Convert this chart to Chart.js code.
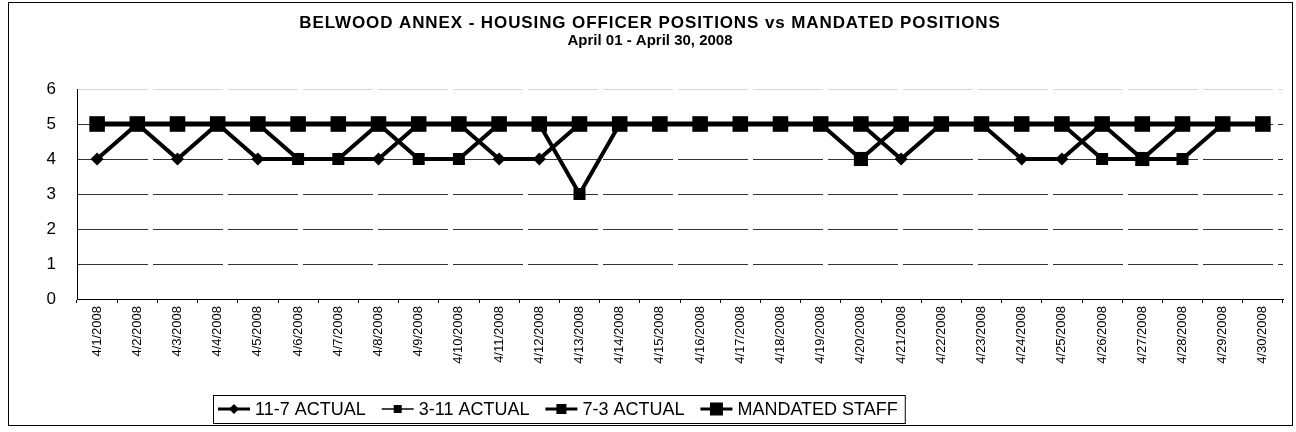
<!DOCTYPE html>
<html><head><meta charset="utf-8">
<script src="https://cdn.jsdelivr.net/npm/chart.js@4/dist/chart.umd.min.js"></script>
<style>html,body{margin:0;padding:0;background:#fff;}#wrap{width:1296px;height:432px;}</style>
</head><body><div id="wrap"><canvas id="c" width="1296" height="432"></canvas></div>
<script>
const dateLabels = ['4/1/2008','4/2/2008','4/3/2008','4/4/2008','4/5/2008','4/6/2008','4/7/2008','4/8/2008','4/9/2008','4/10/2008',
  '4/11/2008','4/12/2008','4/13/2008','4/14/2008','4/15/2008','4/16/2008','4/17/2008','4/18/2008','4/19/2008','4/20/2008',
  '4/21/2008','4/22/2008','4/23/2008','4/24/2008','4/25/2008','4/26/2008','4/27/2008','4/28/2008','4/29/2008','4/30/2008'];
const actual117 = [4,5,4,5,4,4,4,4,5,5,4,4,5,5,5,5,5,5,5,5,4,5,5,4,4,5,5,5,5,5];
const actual311 = [5,5,5,5,5,4,4,5,4,4,5,5,3,5,5,5,5,5,5,5,5,5,5,5,5,4,4,4,5,5];
const actual73  = [5,5,5,5,5,5,5,5,5,5,5,5,5,5,5,5,5,5,5,4,5,5,5,5,5,5,4,5,5,5];
const mandated  = [5,5,5,5,5,5,5,5,5,5,5,5,5,5,5,5,5,5,5,5,5,5,5,5,5,5,5,5,5,5];
const seriesNames = ['11-7 ACTUAL','3-11 ACTUAL','7-3 ACTUAL','MANDATED STAFF'];
const titleLines = ['BELWOOD ANNEX - HOUSING OFFICER POSITIONS vs MANDATED POSITIONS','April 01 - April 30, 2008'];
const yMin = 0, yMax = 6, yStep = 1;

const FONT = '"Liberation Sans", Arial, sans-serif';
const styles = [
  {pointStyle:'rectRot', radius:6.5, lw:4, color:'#000'},
  {pointStyle:'rect', radius:8.5, lw:4, color:'#000'},
  {pointStyle:'rect', radius:10, lw:4, color:'#000'},
  {pointStyle:'rect', radius:11, lw:5, color:'#000'}
];
const seriesData = [actual117, actual311, actual73, mandated];

const frameLegend = {
  id:'frameLegend',
  afterDraw(chart){
    const ctx = chart.ctx;
    ctx.save();
    ctx.strokeStyle = '#000'; ctx.lineWidth = 1;
    ctx.strokeRect(8.5, 2.5, 1284, 423);
    // title
    ctx.fillStyle = '#000';
    ctx.textAlign = 'center';
    ctx.textBaseline = 'middle';
    ctx.font = 'bold 17px ' + FONT;
    if ('letterSpacing' in ctx) ctx.letterSpacing = '0.9px';
    ctx.fillText(titleLines[0], 650, 23);
    if ('letterSpacing' in ctx) ctx.letterSpacing = '0px';
    ctx.font = 'bold 15px ' + FONT;
    ctx.fillText(titleLines[1], 650, 41);
    // legend
    ctx.font = '18px ' + FONT;
    ctx.textBaseline = 'middle';
    const symW = 32, gap = 5, spacing = 16;
    let x = 218; const cy = 409;
    const boxLeft = 213;
    seriesNames.forEach((name, i) => {
      const st = styles[i];
      ctx.strokeStyle = i===1 ? '#444' : '#000';
      ctx.lineWidth = i===1 ? 2 : 3;
      ctx.beginPath(); ctx.moveTo(x, cy); ctx.lineTo(x+symW, cy); ctx.stroke();
      ctx.fillStyle = '#000';
      const mx = x + symW/2;
      ctx.beginPath();
      if (st.pointStyle === 'rectRot') {
        const r = 5;
        ctx.moveTo(mx, cy-r); ctx.lineTo(mx+r, cy); ctx.lineTo(mx, cy+r); ctx.lineTo(mx-r, cy); ctx.closePath();
      } else {
        const h = [0, 4, 5, 6.5][i];
        ctx.rect(mx-h, cy-h, 2*h, 2*h);
      }
      ctx.fill();
      x += symW + gap;
      ctx.fillStyle = '#000';
      ctx.textAlign = 'left';
      ctx.fillText(name, x, cy+1);
      x += ctx.measureText(name).width + spacing;
    });
    ctx.strokeStyle = '#000'; ctx.lineWidth = 1;
    ctx.strokeRect(boxLeft+0.5, 395.5, x - spacing + 7 - boxLeft, 28);
    ctx.restore();
  }
};

new Chart(document.getElementById('c'), {
  type:'line',
  data:{
    labels: dateLabels,
    datasets: seriesData.map((d,i)=>({
      label: seriesNames[i],
      data: d,
      borderColor: styles[i].color,
      backgroundColor: styles[i].color,
      borderWidth: styles[i].lw,
      pointStyle: styles[i].pointStyle,
      pointRadius: styles[i].radius,
      pointHoverRadius: styles[i].radius,
      pointBorderWidth: 0,
      tension: 0,
      fill: false,
      order: 3 - i
    }))
  },
  options:{
    responsive:false, animation:false, devicePixelRatio:1,
    layout:{padding:{left:0,right:13,top:89,bottom:42}},
    plugins:{
      legend:{display:false},
      tooltip:{enabled:false},
      title:{display:false}
    },
    scales:{
      x:{
        offset:true,
        afterFit(s){ s.height = 91; },
        ticks:{autoSkip:false, maxRotation:90, minRotation:90, color:'#000', font:{family:FONT,size:13}, padding:3},
        grid:{display:true, drawOnChartArea:false, offset:true, color:'#000', tickLength:4},
        border:{display:true, color:'#000', width:1}
      },
      y:{
        min:yMin, max:yMax,
        afterFit(s){ s.width = 77; },
        ticks:{stepSize:yStep, color:'#000', font:{family:FONT,size:17}, padding:21},
        grid:{drawTicks:false, color:(c)=> c.tick && c.tick.value===6 ? '#d8d8d8' : '#333', lineWidth:1},
        border:{display:true, color:'#000', width:1, dash:[70,5]}
      }
    }
  },
  plugins:[frameLegend]
});
</script>
</body></html>
